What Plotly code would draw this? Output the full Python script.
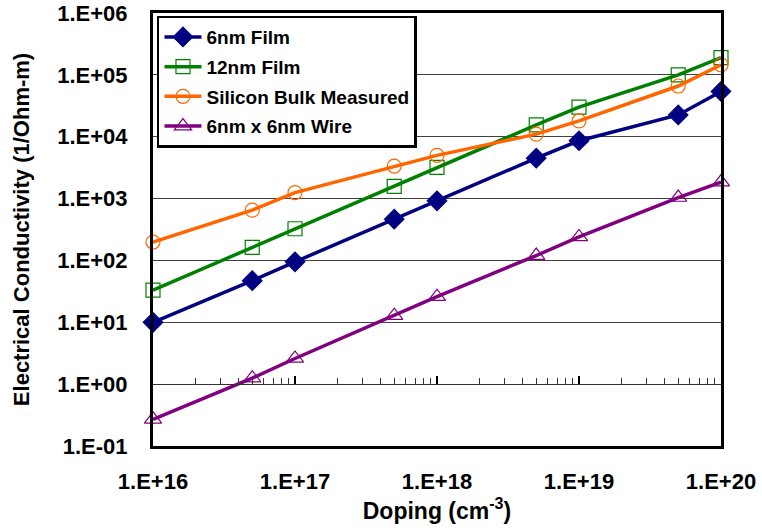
import plotly.graph_objects as go

# Doping concentration (cm^-3)
doping = [1e16, 5e16, 1e17, 5e17, 1e18, 5e18, 1e19, 5e19, 1e20]

# Electrical conductivity (1/Ohm-m) for each structure
film_6nm = [10, 47, 95, 465, 920, 4500, 8600, 22500, 54000]
film_12nm = [33, 162, 325, 1580, 3200, 15500, 30000, 100000, 190000]
bulk_measured = [198, 650, 1250, 3350, 5000, 11000, 18000, 66000, 145000]
wire_6x6 = [0.27, 1.25, 2.6, 12.8, 26, 120, 240, 1040, 1850]

series_names = ["6nm Film", "12nm Film", "Silicon Bulk Measured", "6nm x 6nm Wire"]

y_tickvals = [1e-1, 1e0, 1e1, 1e2, 1e3, 1e4, 1e5, 1e6]
y_ticktext = ["1.E-01", "1.E+00", "1.E+01", "1.E+02", "1.E+03", "1.E+04", "1.E+05", "1.E+06"]
x_tickvals = [1e16, 1e17, 1e18, 1e19, 1e20]
x_ticktext = ["1.E+16", "1.E+17", "1.E+18", "1.E+19", "1.E+20"]

FONT = "Arial, Liberation Sans, sans-serif"

styles = [
    dict(color="#000080", symbol="diamond", size=15),
    dict(color="#008000", symbol="square-open", size=14),
    dict(color="#FF6600", symbol="circle-open", size=14),
    dict(color="#800080", symbol="triangle-up-open", size=15),
]

fig = go.Figure()
for i, (name, ys, st) in enumerate(zip(series_names,
                                       [film_6nm, film_12nm, bulk_measured, wire_6x6],
                                       styles)):
    fig.add_trace(go.Scatter(
        x=doping, y=ys, name=name, mode="lines+markers",
        legendgroup=f"g{i}",
        line=dict(color=st["color"], width=3.5),
        marker=dict(symbol=st["symbol"], size=st["size"], color=st["color"],
                    line=dict(color=st["color"], width=1.2)),
        cliponaxis=False,
    ))

# Horizontal axis line drawn where the y value equals 1, with log minor ticks
fig.add_trace(go.Scatter(x=[doping[0]], y=[1], xaxis="x2", mode="markers",
                         marker=dict(opacity=0), showlegend=False, hoverinfo="skip"))

fig.update_layout(
    width=762, height=531,
    margin=dict(l=153, r=41, t=13, b=85),
    paper_bgcolor="white", plot_bgcolor="white",
    font=dict(family=FONT, color="black"),
    showlegend=True,
    legend=dict(
        x=0.007, y=0.994, xanchor="left", yanchor="top",
        bgcolor="white", bordercolor="black", borderwidth=2.5,
        font=dict(family=FONT, size=19, weight="bold", color="black"),
        tracegroupgap=2, itemwidth=37,
    ),
    xaxis=dict(
        type="log", range=[16, 20], automargin=False,
        tickvals=x_tickvals, ticktext=x_ticktext,
        tickfont=dict(family=FONT, size=22, weight="bold"),
        ticks="", ticklabelstandoff=14,
        showgrid=False, zeroline=False,
        showline=True, linecolor="black", linewidth=3, mirror=True,
        title=dict(text="Doping (cm<sup>-3</sup>)",
                   font=dict(family=FONT, size=23, weight="bold"), standoff=5),
    ),
    xaxis2=dict(
        type="log", range=[16, 20], overlaying="x", anchor="free",
        position=1 / 7, side="bottom", automargin=False,
        dtick=1, showticklabels=False,
        ticks="inside", ticklen=8, tickwidth=1.5, tickcolor="black",
        minor=dict(ticks="inside", ticklen=6, tickwidth=1, tickcolor="#333333", dtick="D1"),
        showgrid=False, zeroline=False,
        showline=True, linecolor="#333333", linewidth=1.2,
    ),
    yaxis=dict(
        type="log", range=[-1, 6], automargin=False,
        tickvals=y_tickvals, ticktext=y_ticktext,
        tickfont=dict(family=FONT, size=22, weight="bold"),
        ticks="", ticklabelstandoff=18,
        showgrid=True, gridcolor="#404040", gridwidth=1,
        zeroline=False,
        showline=True, linecolor="black", linewidth=3, mirror=True,
        title=dict(text="Electrical Conductivity (1/Ohm-m)",
                   font=dict(family=FONT, size=22, weight="bold"), standoff=22),
    ),
)

fig.write_html("out.html")
